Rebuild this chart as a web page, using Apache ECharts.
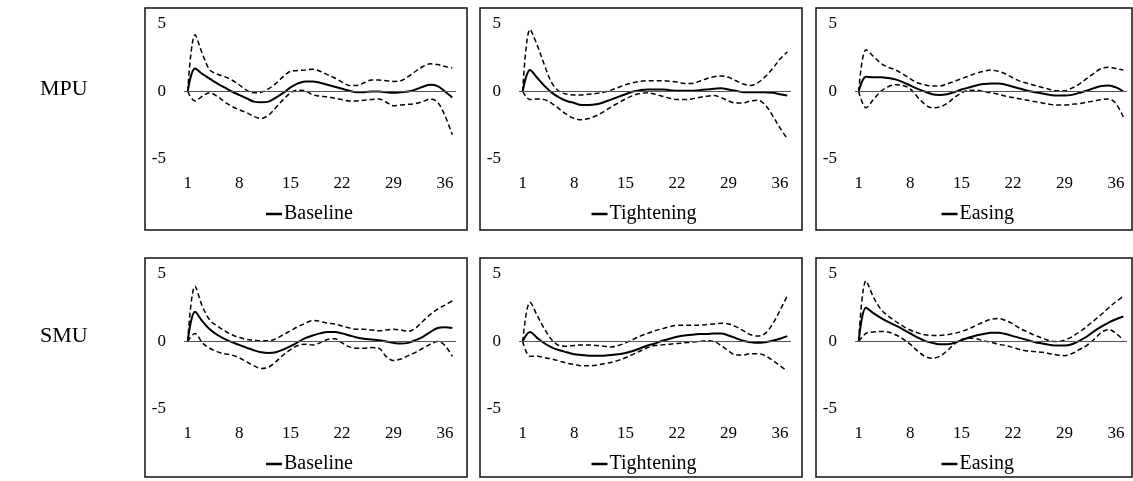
<!DOCTYPE html>
<html>
<head>
<meta charset="utf-8">
<script src="https://cdn.jsdelivr.net/npm/echarts@6/dist/echarts.min.js"></script>
<style>
html, body { margin: 0; padding: 0; background: #fff; }
#chart { width: 1133px; height: 481px; }
</style>
</head>
<body>
<div id="chart"></div>
<script>
// horizons 1..37, labelled every 7th
var horizons = [1,2,3,4,5,6,7,8,9,10,11,12,13,14,15,16,17,18,19,20,21,22,23,24,25,26,27,28,29,30,31,32,33,34,35,36,37];
var yTicks = [-5, 0, 5];

// MPU - Baseline
var mpuBaseMid = [0,1.7,1.3,0.95,0.6,0.3,0,-0.25,-0.5,-0.75,-0.8,-0.75,-0.45,-0.1,0.3,0.6,0.75,0.75,0.65,0.5,0.35,0.2,0.05,-0.05,-0.05,0,0,-0.05,-0.1,-0.05,0,0.15,0.35,0.5,0.4,0,-0.45];
var mpuBaseUp  = [0,4.2,2.8,1.6,1.3,1.1,0.85,0.5,0.1,-0.1,-0.05,0.2,0.6,1.1,1.5,1.55,1.6,1.65,1.5,1.25,1,0.7,0.45,0.45,0.65,0.85,0.85,0.8,0.75,0.8,1.1,1.5,1.85,2.05,2,1.85,1.75];
var mpuBaseLo  = [0,-0.7,-0.35,-0.1,-0.35,-0.75,-1.1,-1.35,-1.55,-1.85,-2,-1.75,-1.2,-0.6,-0.1,0.1,0.05,-0.25,-0.35,-0.4,-0.5,-0.6,-0.7,-0.7,-0.65,-0.6,-0.55,-0.8,-1.05,-1,-0.95,-0.9,-0.75,-0.55,-0.8,-1.8,-3.2];

// MPU - Tightening
var mpuTightMid = [0,1.6,1,0.4,-0.1,-0.45,-0.7,-0.85,-1,-1,-0.95,-0.8,-0.6,-0.4,-0.2,0,0.1,0.15,0.15,0.15,0.1,0.05,0.05,0.05,0.1,0.15,0.2,0.25,0.15,0.05,-0.05,-0.05,-0.05,-0.05,-0.1,-0.2,-0.3];
var mpuTightUp  = [0,4.6,3.4,1.9,0.6,0,-0.2,-0.25,-0.25,-0.2,-0.15,-0.05,0.1,0.3,0.5,0.65,0.75,0.8,0.8,0.8,0.75,0.7,0.6,0.6,0.75,0.95,1.1,1.15,1.05,0.8,0.55,0.45,0.65,1.1,1.7,2.4,2.95];
var mpuTightLo  = [0,-0.6,-0.55,-0.6,-0.9,-1.3,-1.7,-2,-2.1,-2,-1.8,-1.5,-1.15,-0.85,-0.55,-0.3,-0.15,-0.1,-0.2,-0.35,-0.5,-0.6,-0.6,-0.55,-0.45,-0.35,-0.3,-0.45,-0.7,-0.85,-0.85,-0.7,-0.65,-1,-1.8,-2.7,-3.5];

// MPU - Easing
var mpuEaseMid = [0,1.1,1.05,1.05,1,0.9,0.7,0.45,0.2,0,-0.2,-0.25,-0.2,-0.05,0.15,0.3,0.45,0.55,0.6,0.6,0.5,0.35,0.2,0.05,-0.05,-0.15,-0.25,-0.3,-0.3,-0.25,-0.1,0.05,0.25,0.4,0.45,0.3,0];
var mpuEaseUp  = [0,3.1,2.6,2.1,1.8,1.6,1.3,0.95,0.65,0.5,0.4,0.4,0.55,0.75,0.95,1.15,1.35,1.5,1.6,1.5,1.3,1,0.75,0.6,0.45,0.3,0.15,0.05,0.05,0.25,0.55,0.95,1.35,1.7,1.8,1.7,1.6];
var mpuEaseLo  = [0,-1.2,-0.6,0,0.35,0.5,0.45,0.2,-0.4,-0.95,-1.2,-1.15,-0.9,-0.45,-0.1,0.1,0.1,0,-0.1,-0.2,-0.35,-0.45,-0.55,-0.65,-0.75,-0.85,-0.95,-1,-1,-0.95,-0.9,-0.8,-0.7,-0.6,-0.55,-0.9,-1.9];

// SMU - Baseline
var smuBaseMid = [0,2.2,1.5,0.9,0.5,0.2,-0.05,-0.25,-0.45,-0.65,-0.8,-0.85,-0.8,-0.6,-0.35,-0.05,0.25,0.45,0.6,0.7,0.7,0.6,0.45,0.3,0.2,0.15,0.1,0,-0.1,-0.15,-0.1,0.1,0.35,0.7,1,1.05,1];
var smuBaseUp  = [0,4.1,2.6,1.6,1.15,0.8,0.5,0.3,0.15,0.1,0.05,0.05,0.2,0.5,0.8,1.1,1.35,1.55,1.5,1.35,1.3,1.15,1,0.9,0.9,0.85,0.8,0.85,0.9,0.85,0.75,1,1.5,2,2.4,2.7,3];
var smuBaseLo  = [0,0.6,-0.1,-0.5,-0.75,-0.9,-1,-1.2,-1.5,-1.8,-2,-1.9,-1.5,-1,-0.6,-0.3,-0.2,-0.25,-0.1,0.15,0.2,-0.1,-0.4,-0.5,-0.5,-0.45,-0.5,-1.1,-1.4,-1.3,-1.05,-0.8,-0.5,-0.2,0,-0.3,-1.1];

// SMU - Tightening
var smuTightMid = [0,0.7,0.25,-0.15,-0.45,-0.65,-0.8,-0.95,-1,-1.05,-1.05,-1.05,-1,-0.95,-0.85,-0.7,-0.5,-0.3,-0.15,0.05,0.2,0.35,0.45,0.5,0.55,0.55,0.6,0.6,0.45,0.25,0.05,-0.05,-0.1,-0.05,0.05,0.2,0.4];
var smuTightUp  = [0,2.9,1.9,0.9,0.1,-0.3,-0.35,-0.3,-0.25,-0.25,-0.3,-0.35,-0.4,-0.3,-0.1,0.15,0.4,0.6,0.8,0.95,1.1,1.2,1.2,1.2,1.2,1.25,1.3,1.35,1.3,1.1,0.8,0.5,0.4,0.6,1.3,2.3,3.4];
var smuTightLo  = [0,-1.1,-1.1,-1.2,-1.3,-1.45,-1.6,-1.7,-1.8,-1.8,-1.75,-1.65,-1.55,-1.4,-1.2,-0.95,-0.7,-0.45,-0.3,-0.25,-0.2,-0.15,-0.1,-0.05,0,0.05,0,-0.3,-0.7,-1,-1,-0.9,-0.9,-1.05,-1.4,-1.8,-2.2];

// SMU - Easing
var smuEaseMid = [0,2.5,2.1,1.75,1.45,1.2,0.9,0.6,0.3,0.05,-0.1,-0.2,-0.2,-0.1,0.1,0.3,0.45,0.55,0.65,0.65,0.55,0.4,0.25,0.1,-0.05,-0.15,-0.25,-0.3,-0.3,-0.2,0.05,0.35,0.75,1.1,1.4,1.65,1.85];
var smuEaseUp  = [0,4.5,3.3,2.4,1.9,1.5,1.15,0.85,0.65,0.5,0.45,0.45,0.5,0.6,0.75,0.95,1.2,1.45,1.65,1.7,1.55,1.3,0.95,0.7,0.45,0.25,0.05,0,0.1,0.35,0.7,1.1,1.55,2,2.5,2.95,3.35];
var smuEaseLo  = [0,0.6,0.7,0.75,0.7,0.5,0.2,-0.2,-0.7,-1.1,-1.25,-1.1,-0.7,-0.2,0.15,0.25,0.2,0.05,-0.05,-0.2,-0.3,-0.45,-0.6,-0.7,-0.75,-0.8,-0.9,-1,-1.05,-0.9,-0.6,-0.3,0.15,0.65,0.9,0.6,0.1];

var rowLabels = ['MPU', 'SMU'];

var panels = [
    { name: 'Baseline',   mid: mpuBaseMid,  up: mpuBaseUp,  lo: mpuBaseLo,  x: 145, y: 8,   w: 322, h: 222 },
    { name: 'Tightening', mid: mpuTightMid, up: mpuTightUp, lo: mpuTightLo, x: 480, y: 8,   w: 322, h: 222 },
    { name: 'Easing',     mid: mpuEaseMid,  up: mpuEaseUp,  lo: mpuEaseLo,  x: 816, y: 8,   w: 316, h: 222 },
    { name: 'Baseline',   mid: smuBaseMid,  up: smuBaseUp,  lo: smuBaseLo,  x: 145, y: 258, w: 322, h: 219 },
    { name: 'Tightening', mid: smuTightMid, up: smuTightUp, lo: smuTightLo, x: 480, y: 258, w: 322, h: 219 },
    { name: 'Easing',     mid: smuEaseMid,  up: smuEaseUp,  lo: smuEaseLo,  x: 816, y: 258, w: 316, h: 219 }
];

// rough legend widths (icon + gap + text) for centring
var legendWidth = { 'Baseline': 90, 'Tightening': 109, 'Easing': 75 };

var FONT = '"Liberation Serif", "Times New Roman", serif';

var myChart = echarts.init(document.getElementById('chart'));

var grids = [], xAxes = [], yAxes = [], series = [], legends = [], graphics = [];

panels.forEach(function (p, i) {
    grids.push({ left: p.x + 39, top: p.y + 16, width: 272, height: 135 });

    xAxes.push({
        type: 'category',
        gridIndex: i,
        data: horizons,
        boundaryGap: true,
        axisLine: { show: false },
        axisTick: { show: false },
        axisLabel: { interval: 6, margin: 16, color: '#000', fontFamily: FONT, fontSize: 17 },
        splitLine: { show: false }
    });

    yAxes.push({
        type: 'value',
        gridIndex: i,
        min: yTicks[0],
        max: yTicks[yTicks.length - 1],
        interval: 5,
        axisLine: { show: false },
        axisTick: { show: false },
        axisLabel: { margin: 18, color: '#000', fontFamily: FONT, fontSize: 17 },
        splitLine: { show: false }
    });

    series.push({
        name: p.name,
        type: 'line',
        xAxisIndex: i,
        yAxisIndex: i,
        data: p.mid,
        smooth: 0.35,
        showSymbol: false,
        silent: true,
        z: 3,
        lineStyle: { color: '#000', width: 2 },
        itemStyle: { color: '#000' },
        markLine: {
            silent: true,
            symbol: 'none',
            label: { show: false },
            lineStyle: { color: '#555', width: 1, type: 'solid' },
            data: [{ yAxis: 0 }]
        }
    });
    [p.up, p.lo].forEach(function (band, k) {
        series.push({
            name: p.name + (k === 0 ? ' upper' : ' lower'),
            type: 'line',
            xAxisIndex: i,
            yAxisIndex: i,
            data: band,
            smooth: 0.35,
            showSymbol: false,
            silent: true,
            lineStyle: { color: '#000', width: 1.5, type: [5, 3] }
        });
    });

    legends.push({
        data: [p.name],
        left: p.x + p.w / 2 - legendWidth[p.name] / 2,
        top: p.y + 191,
        icon: 'rect',
        itemWidth: 16,
        itemHeight: 2.5,
        selectedMode: false,
        textStyle: { color: '#000', fontFamily: FONT, fontSize: 20, padding: [0, 0, 0, -3] }
    });

    graphics.push({
        type: 'rect',
        shape: { x: p.x, y: p.y, width: p.w, height: p.h },
        style: { fill: 'none', stroke: '#111', lineWidth: 1.5 },
        silent: true
    });
});

rowLabels.forEach(function (txt, r) {
    graphics.push({
        type: 'text',
        left: 40,
        top: r === 0 ? 78 : 325,
        style: { text: txt, fill: '#000', font: '22px ' + FONT }
    });
});

var option = {
    animation: false,
    backgroundColor: '#fff',
    grid: grids,
    xAxis: xAxes,
    yAxis: yAxes,
    legend: legends,
    series: series,
    graphic: graphics
};

myChart.setOption(option);
</script>
</body>
</html>
